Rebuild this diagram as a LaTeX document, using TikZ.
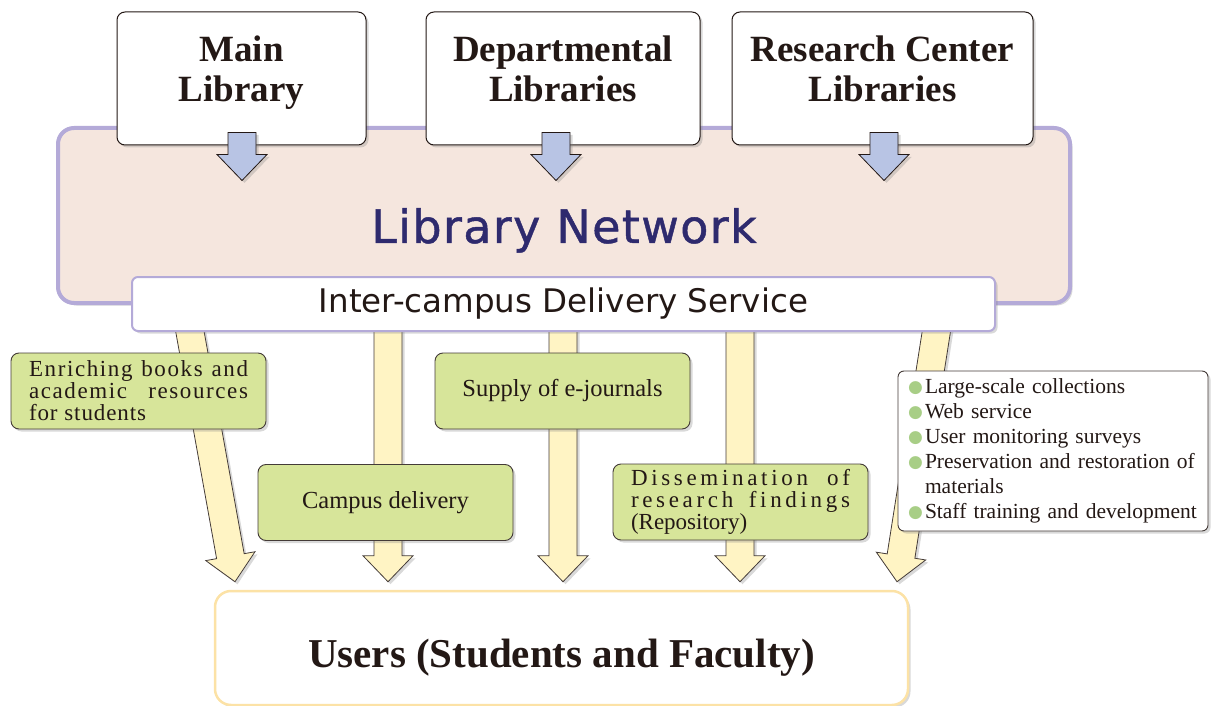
\documentclass[tikz,border=0pt]{standalone}
\usepackage{fontspec}
\setmainfont{Liberation Serif}
\newfontfamily\gothicfont{DejaVu Sans}
\newfontfamily\symbolfont{DejaVu Sans}
\usetikzlibrary{calc,shadows,backgrounds}

\newcommand\libfont{\fontsize{37}{40}\selectfont\bfseries}
\newcommand\netfont{\gothicfont\fontsize{46}{50}\selectfont\addfontfeature{LetterSpace=3,FakeBold=1}}
\newcommand\delfont{\gothicfont\fontsize{32.5}{36}\selectfont}
\newcommand\tagfont{\fontsize{24.5}{24}\selectfont}
\newcommand\spreadfont{\fontsize{23}{22}\selectfont}
\newcommand\listfont{\fontsize{21.5}{25}\selectfont}
\newcommand\userfont{\fontsize{41}{45}\selectfont\bfseries}
\newcommand\spreadline[3]{\makebox[#1][s]{\addfontfeature{LetterSpace=#2}#3}}
\newcommand\dotitem{\makebox[17pt][l]{\raisebox{1.5pt}{\textcolor{dotColor}{\symbolfont\fontsize{17}{17}\selectfont ●}}}}
\newcommand\flowarrow[3]{%
  \coordinate (neck) at ($(#3)!26pt!(#2)$);
  \draw[#1] ($(#2)!14pt!90:(#3)$) -- ($(neck)!14pt!90:(#3)$) -- ($(neck)!25pt!90:(#3)$) -- (#3)
    -- ($(neck)!25pt!-90:(#3)$) -- ($(neck)!14pt!-90:(#3)$) -- ($(#2)!14pt!-90:(#3)$) -- cycle;
}

\tikzset{
  softshadow/.style={drop shadow={shadow xshift=2.5pt,shadow yshift=-2.5pt,opacity=0.3}},
  netbox/.style={softshadow,draw=netLine,line width=4pt,fill=netFill,rounded corners=16pt,minimum width=1012pt,minimum height=175pt,inner sep=0pt,font=\netfont,text=netText,text height=55pt,text depth=0pt},
  libbox/.style={softshadow,draw=inkColor,line width=1pt,fill=white,rounded corners=8pt,minimum height=133pt,inner sep=0pt,align=center,font=\libfont,text=inkColor,text height=65pt,text depth=18pt},
  delbox/.style={softshadow,draw=netLine,line width=2pt,fill=white,rounded corners=6pt,minimum width=863pt,minimum height=54pt,inner sep=0pt,font=\delfont,text=inkColor},
  tagbox/.style={softshadow,draw=inkColor!85,line width=0.9pt,fill=greenFill,rounded corners=8pt,minimum width=255pt,minimum height=76pt,inner sep=0pt,align=left,font=\tagfont,text=inkColor},
  listbox/.style={softshadow,draw=inkColor!85,line width=0.9pt,fill=white,rounded corners=6pt,text width=290pt,inner xsep=10pt,inner ysep=0pt,minimum height=160pt,align=left,font=\listfont,text=inkColor},
  userbox/.style={softshadow,draw=userLine,line width=2.5pt,fill=white,rounded corners=16pt,minimum width=693pt,minimum height=114pt,inner sep=0pt,font=\userfont,text=inkColor,text height=38pt,text depth=0pt},
  inarrow/.style={softshadow,draw=inkColor,line width=0.8pt,fill=blueFill},
  outarrow/.style={softshadow,draw=inkColor!85,line width=0.8pt,fill=yellowFill}
}

\begin{document}
\begin{tikzpicture}[x=1pt,y=-1pt]
\definecolor{inkColor}{RGB}{35,24,21}
\definecolor{netFill}{RGB}{245,230,222}
\definecolor{netLine}{RGB}{180,170,216}
\definecolor{netText}{RGB}{46,42,110}
\definecolor{blueFill}{RGB}{184,196,228}
\definecolor{yellowFill}{RGB}{255,244,196}
\definecolor{greenFill}{RGB}{215,229,154}
\definecolor{dotColor}{RGB}{168,206,134}
\definecolor{userLine}{RGB}{252,226,166}
\useasboundingbox (0,0) rectangle (1211,706);
\node[netbox] (network) at (564,215.5) {Library Network};
\node[libbox,minimum width=249pt] (main) at (241.5,78.5) {Main\\Library};
\node[libbox,minimum width=274pt] (dept) at (563,78.5) {Departmental\\Libraries};
\node[libbox,minimum width=301pt] (research) at (882.5,78.5) {Research Center\\Libraries};
\foreach \n/\x in {main/242,dept/556,research/884}{
  \coordinate (\n top) at ($(\n.south -| \x,0)+(0,-13)$);
  \coordinate (\n tip) at ($(\n.south -| \x,0)+(0,35)$);
  \flowarrow{inarrow}{\n top}{\n tip}
}
\node[delbox] (delivery) at (563.5,304) {Inter-campus Delivery Service};
\node[tagbox,font=\spreadfont] (books) at (138.5,391) {\spreadline{219pt}{7}{Enriching books and}\\\spreadline{219pt}{7}{academic resources}\\{\addfontfeature{LetterSpace=4}for students}};
\node[tagbox] (campus) at (385.5,502.5) {Campus delivery};
\node[tagbox] (journals) at (562.5,391) {Supply of e-journals};
\node[tagbox,font=\spreadfont] (repo) at (740.5,502) {\spreadline{219pt}{16}{Dissemination of}\\\spreadline{219pt}{16}{research findings}\\(Repository)};
\node[listbox] (services) at (1053,451) {\dotitem Large-scale collections\\\dotitem Web service\\\dotitem User monitoring surveys\\\dotitem Preservation and restoration of\\\hspace*{17pt}materials\\\dotitem Staff training and development};
\node[userbox] (users) at (561.5,648) {Users (Students and Faculty)};
\begin{pgfonlayer}{background}
\foreach \n/\a/\b in {books/188/235,campus/388/388,journals/563/563,repo/740/740,services/938/897}{
  \coordinate (\n src) at ($(delivery.south -| \a,0)+(0,-11)$);
  \coordinate (\n tip) at ($(users.north -| \b,0)+(0,-8)$);
  \flowarrow{outarrow}{\n src}{\n tip}
}
\end{pgfonlayer}
\end{tikzpicture}
\end{document}
